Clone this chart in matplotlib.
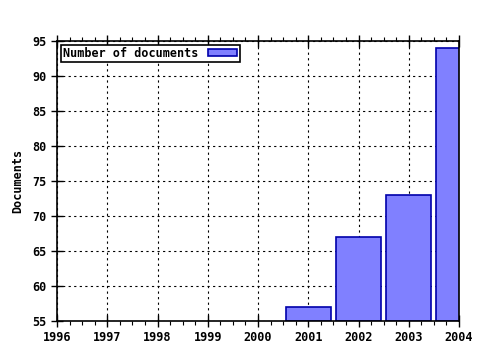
import matplotlib
matplotlib.use("Agg")
import matplotlib.pyplot as plt
from matplotlib.ticker import MultipleLocator

# data
years = [2001, 2002, 2003, 2004]
documents = [57, 67, 73, 94]
year_ticks = list(range(1996, 2005))
doc_ticks = list(range(55, 96, 5))

plt.rcParams['font.family'] = 'DejaVu Sans Mono'
plt.rcParams['font.weight'] = 'bold'
plt.rcParams['font.size'] = 8.5

fig = plt.figure(figsize=(4.8, 3.5), dpi=100)
ax = fig.add_axes([57 / 480, 29 / 350, 402 / 480, 280 / 350])

ax.bar(years, [d - 55 for d in documents], bottom=55, width=0.9,
       color='#8080ff', edgecolor='#0000aa', linewidth=1.2,
       label='Number of documents', zorder=3)

ax.set_xlim(1996, 2004)
ax.set_ylim(55, 95)
ax.set_xticks(year_ticks)
ax.set_yticks(doc_ticks)
ax.xaxis.set_minor_locator(MultipleLocator(0.25))
ax.tick_params(axis='x', which='major', direction='inout', length=8, top=True, width=1)
ax.tick_params(axis='x', which='minor', direction='out', length=3, top=True, width=0.8)
ax.tick_params(axis='y', which='major', direction='inout', length=8, width=1)
ax.tick_params(axis='both', labelsize=8.5, colors='black')

ax.grid(True, color='black', linestyle=(0, (2, 3)), linewidth=0.8, zorder=0)
for s in ax.spines.values():
    s.set_linewidth(1.2)
    s.set_zorder(4)

ax.set_ylabel('Documents', fontsize=8.5, fontweight='bold', labelpad=6)

leg = ax.legend(loc='upper left', markerfirst=False, fancybox=False,
                framealpha=1, edgecolor='black', handlelength=2.5,
                handleheight=0.6, borderpad=0.2, borderaxespad=0.3,
                fontsize=8.5)
leg.get_frame().set_linewidth(1.2)

fig.savefig('out.png', dpi=100)
